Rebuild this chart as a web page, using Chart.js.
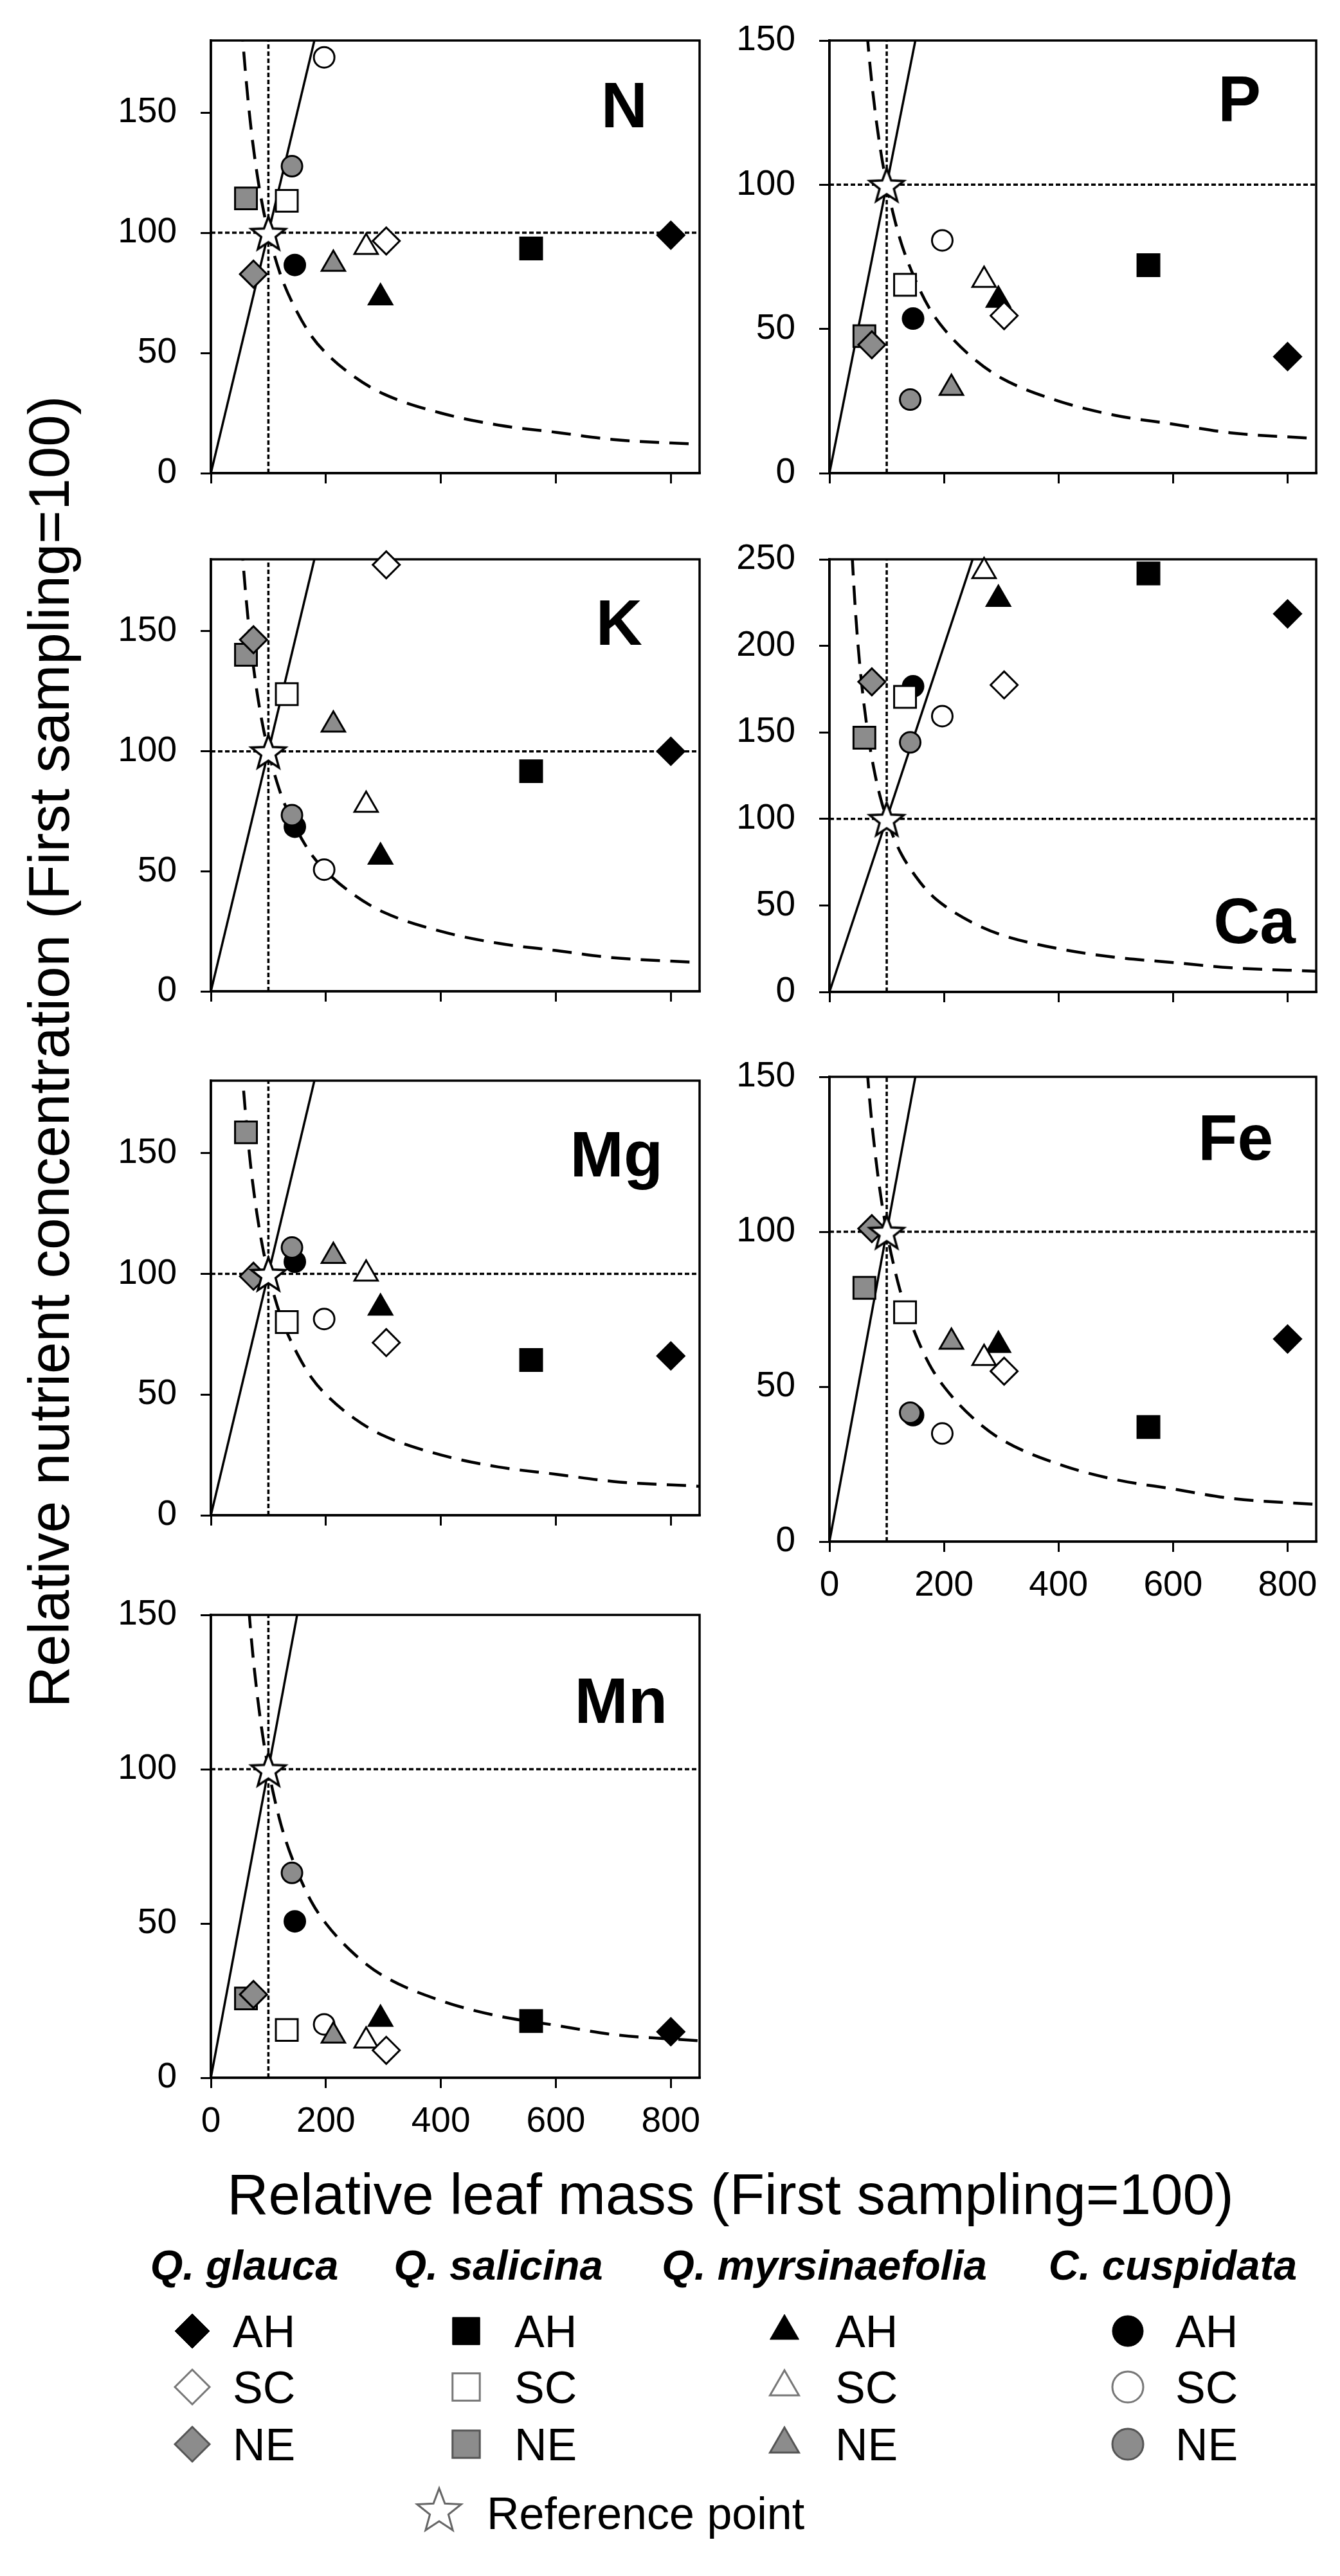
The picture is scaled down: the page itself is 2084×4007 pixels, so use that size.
<!DOCTYPE html>
<html>
<head>
<meta charset="utf-8">
<script src="https://cdn.jsdelivr.net/npm/chart.js@4.4.1/dist/chart.umd.min.js"></script>
<style>
  body { margin: 0; background: #fff; width: 2084px; height: 4007px; position: relative; overflow: hidden;
         font-family: "Liberation Sans", Arial, sans-serif; color: #000; }
  canvas { position: absolute; }
  .txt { position: absolute; white-space: nowrap; line-height: 1; }
  .tag { font-weight: bold; font-size: 100px; transform: translateX(-100%); }
  .head { font-weight: bold; font-style: italic; font-size: 65px; transform: translateX(-50%); }
  .item { font-size: 70px; }
</style>
</head>
<body>

<div class="txt" id="ytitle" style="font-size:89px;left:76px;top:1636px;transform:translate(-50%,-50%) rotate(-90deg);">Relative nutrient concentration (First sampling=100)</div>
<div class="txt" style="font-size:89px;left:1136px;top:3369px;transform:translateX(-50%);">Relative leaf mass (First sampling=100)</div>

<div id="legend"></div>
<canvas id="legendIcons" width="2084" height="420" style="left:0;top:3560px;"></canvas>

<script>
// --- Data ---
const species = ["Q. glauca", "Q. salicina", "Q. myrsinaefolia", "C. cuspidata"];
const treatments = ["AH", "SC", "NE"];
const xTicks = [0, 200, 400, 600, 800];
const yTicks150 = [0, 50, 100, 150];
const yTicks250 = [0, 50, 100, 150, 200, 250];

// relative leaf mass (same in every panel), order AH, SC, NE
const massGlauca = [800, 305, 74];
const massSalicina = [557, 132, 61];
const massMyrsin = [295, 270, 213];
const massCusp = [146, 197, 141];
const masses = [massGlauca, massSalicina, massMyrsin, massCusp];

// relative nutrient concentration, species order as above, each AH, SC, NE
const concN  = [99, 96.6, 82.8,   93.5, 113.3, 114.3,  73, 94, 87,        86.6, 173, 127.7];
const concP  = [40.4, 54.6, 44.5, 72.1, 65.3, 47.5,    60, 66.9, 29.5,    53.6, 80.7, 25.5];
const concK  = [100, 177.7, 146.5, 91.7, 123.8, 140.2, 56, 77.6, 111,     68.6, 50.7, 73.4];
const concCa = [218.5, 177.4, 179.2, 241.8, 170.5, 146.9, 227, 243, null, 176.6, 159.4, 144.2];
const concMg = [66, 71.5, 99,     64.3, 80, 158.6,     85.9, 100, 107.3,  105, 81.3, 110.9];
const concFe = [65.4, 55, 101,    37, 74, 81.9,        63.4, 59.2, 64.4,  40.8, 34.9, 41.6];
const concMn = [14.9, 8.9, 27,    18.4, 15.5, 25.7,    19, 12, 13.6,      50.7, 17.3, 66.4];

// reference lines
const refPoint = [100, 100];
const lineX = [0, 300];          // y = x line
const lineY = [0, 300];
const curveX = [35, 40, 45, 50, 55, 60, 70, 80, 90, 100, 110, 125, 150, 175, 200, 250, 300, 400, 500, 600, 700, 850];
const curveY = [286, 250, 222, 200, 182, 167, 143, 125, 111, 100, 91, 80, 67, 57, 50, 40, 33, 25, 20, 17, 14, 12];

// --- Panel layout ---
const panels = [
  { name: "N",  conc: concN,  yTicks: yTicks150, yMax: 180, left: 328,  right: 1097, top: 38,   bottom: 786,  xLabels: false, tagRight: 1007, tagY: 162 },
  { name: "P",  conc: concP,  yTicks: yTicks150, yMax: 150, left: 1290, right: 2056, top: 38,   bottom: 786,  xLabels: false, tagRight: 1961, tagY: 152 },
  { name: "K",  conc: concK,  yTicks: yTicks150, yMax: 180, left: 328,  right: 1097, top: 845,  bottom: 1592, xLabels: false, tagRight: 999,  tagY: 967 },
  { name: "Ca", conc: concCa, yTicks: yTicks250, yMax: 250, left: 1290, right: 2056, top: 845,  bottom: 1593, xLabels: false, tagRight: 2015, tagY: 1431 },
  { name: "Mg", conc: concMg, yTicks: yTicks150, yMax: 180, left: 328,  right: 1097, top: 1656, bottom: 2407, xLabels: false, tagRight: 1031, tagY: 1794 },
  { name: "Fe", conc: concFe, yTicks: yTicks150, yMax: 150, left: 1290, right: 2056, top: 1650, bottom: 2398, xLabels: true,  tagRight: 1980, tagY: 1768 },
  { name: "Mn", conc: concMn, yTicks: yTicks150, yMax: 150, left: 328,  right: 1097, top: 2487, bottom: 3232, xLabels: true,  tagRight: 1038, tagY: 2644 }
];

const shapes = ["rectRot", "rect", "triangle", "circle"];
const radii = [21, 24, 21, 16];
const fills = ["#000000", "#ffffff", "#8c8c8c"];
const tickFont = { family: '"Liberation Sans", Arial, sans-serif', size: 55 };

function makeStar(R, lw, stroke) {
  const c = document.createElement("canvas");
  const s = Math.ceil(2 * R + 2 * lw + 4);
  c.width = c.height = s;
  const g = c.getContext("2d");
  g.beginPath();
  for (let i = 0; i < 10; i++) {
    const r = i % 2 ? R * 0.42 : R;
    const a = -Math.PI / 2 + i * Math.PI / 5;
    g.lineTo(s / 2 + r * Math.cos(a), s / 2 + r * Math.sin(a) + R * 0.1);
  }
  g.closePath();
  g.fillStyle = "#fff";
  g.fill();
  g.lineWidth = lw;
  g.strokeStyle = stroke;
  g.stroke();
  return c;
}
const star = makeStar(28, 3.5, "#000");

// box round the plot area
const frame = {
  id: "frame",
  beforeDatasetsDraw(chart) {
    const a = chart.chartArea, ctx = chart.ctx;
    ctx.save();
    ctx.strokeStyle = "#000";
    ctx.lineWidth = 3.5;
    ctx.strokeRect(a.left, a.top, a.right - a.left, a.bottom - a.top);
    ctx.restore();
  }
};

function pts(xs, ys) {
  return xs.map((x, i) => ({ x: x, y: ys[i] }));
}

panels.forEach(p => {
  const padTop = 45, padRight = 20, yW = 160;
  const xH = p.xLabels ? 110 : 20;
  const cv = document.createElement("canvas");
  const W = p.right + padRight - (p.left - yW);
  const H = padTop + (p.bottom - p.top) + xH;
  cv.width = W;
  cv.height = H;
  cv.style.left = (p.left - yW) + "px";
  cv.style.top = (p.top - padTop) + "px";
  cv.style.width = W + "px";
  cv.style.height = H + "px";
  document.body.appendChild(cv);

  const tag = document.createElement("div");
  tag.className = "txt tag";
  tag.textContent = p.name;
  tag.style.left = p.tagRight + "px";
  tag.style.top = (p.tagY - 0.4885 * 100) + "px";
  document.body.appendChild(tag);

  const markerSets = species.map((sp, s) => ({
    label: sp,
    data: treatments.map((t, k) => ({ x: masses[s][k], y: p.conc[s * 3 + k] })),
    pointStyle: shapes[s],
    pointRadius: radii[s],
    pointHoverRadius: radii[s],
    backgroundColor: fills,
    borderColor: "#000",
    borderWidth: 3,
    showLine: false,
    clip: false,
    order: 1
  }));

  new Chart(cv, {
    type: "scatter",
    data: {
      datasets: [
        { label: "Reference point", data: [{ x: refPoint[0], y: refPoint[1] }], pointStyle: star,
          pointRadius: 28, clip: false, order: 0 },
        ...markerSets,
        { label: "y=x", data: pts(lineX, lineY), showLine: true, pointRadius: 0, borderColor: "#000",
          borderWidth: 3.5, clip: 0, order: 2 },
        { label: "curve", data: pts(curveX, curveY), showLine: true, pointRadius: 0, borderColor: "#000",
          borderWidth: 4.5, borderDash: [30, 16], cubicInterpolationMode: "monotone", clip: 0, order: 2 },
        { label: "x100", data: [{ x: refPoint[0], y: 0 }, { x: refPoint[0], y: 300 }], showLine: true,
          pointRadius: 0, borderColor: "#000", borderWidth: 3.5, borderDash: [7, 4], clip: 0, order: 3 },
        { label: "y100", data: [{ x: 0, y: refPoint[1] }, { x: 900, y: refPoint[1] }], showLine: true,
          pointRadius: 0, borderColor: "#000", borderWidth: 3.5, borderDash: [7, 4], clip: 0, order: 3 }
      ]
    },
    options: {
      responsive: false,
      animation: false,
      events: [],
      layout: { padding: { top: padTop, right: padRight, left: 0, bottom: 0 } },
      plugins: { legend: { display: false }, tooltip: { enabled: false } },
      scales: {
        x: {
          type: "linear", min: 0, max: 850,
          afterBuildTicks: s => { s.ticks = xTicks.map(v => ({ value: v })); },
          afterFit: s => { s.height = xH; },
          ticks: { display: p.xLabels, font: tickFont, color: "#000", padding: 20, maxRotation: 0 },
          grid: { drawOnChartArea: false, drawTicks: true, tickLength: 16, color: "#000", lineWidth: 3 },
          border: { display: true, color: "#000", width: 3.5 }
        },
        y: {
          type: "linear", min: 0, max: p.yMax,
          afterBuildTicks: s => { s.ticks = p.yTicks.map(v => ({ value: v })); },
          afterFit: s => { s.width = yW; },
          ticks: { font: tickFont, color: "#000", padding: 37 },
          grid: { drawOnChartArea: false, drawTicks: true, tickLength: 16, color: "#000", lineWidth: 3 },
          border: { display: true, color: "#000", width: 3.5 }
        }
      }
    },
    plugins: [frame]
  });
});

// --- Legend ---
const headX = [380, 775, 1282, 1824];
const iconX = [299, 725, 1220, 1754];
const textX = [362, 800, 1299, 1828];
const rowY = [3626, 3713, 3802];
const legendRadii = [27, 30, 26, 24];
const legendStroke = ["#000", "#777", "#555"];
const legend = document.getElementById("legend");

function addText(cls, txt, left, capY, size) {
  const d = document.createElement("div");
  d.className = "txt " + cls;
  d.textContent = txt;
  d.style.left = left + "px";
  d.style.top = (capY - 0.4885 * size) + "px";
  legend.appendChild(d);
}

const lc = document.getElementById("legendIcons").getContext("2d");
const offY = 3560;
species.forEach((sp, s) => {
  addText("head", sp, headX[s], 3523, 65);
  treatments.forEach((t, k) => {
    addText("item", t, textX[s], rowY[k], 70);
    lc.fillStyle = fills[k];
    lc.strokeStyle = legendStroke[k];
    lc.lineWidth = k === 0 ? 1 : 3;
    Chart.helpers.drawPoint(lc, { pointStyle: shapes[s], radius: legendRadii[s], rotation: 0, borderWidth: lc.lineWidth },
      iconX[s], rowY[k] - offY);
  });
});
const legendStar = makeStar(36, 3, "#666");
lc.drawImage(legendStar, 683 - legendStar.width / 2, 3903 - offY - legendStar.height / 2);
addText("item", "Reference point", 757, 3909, 70);
</script>
</body>
</html>
